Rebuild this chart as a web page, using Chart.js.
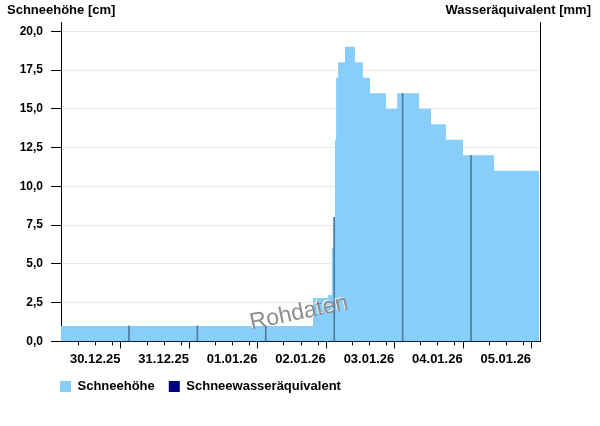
<!DOCTYPE html>
<html>
<head>
<meta charset="utf-8">
<script src="https://cdn.jsdelivr.net/npm/chart.js@4"></script>
<style>
  body { margin: 0; background: #fff; }
</style>
</head>
<body>
<canvas id="schneeChart" width="600" height="426"></canvas>
<script>
// Tage (Beschriftung in der Tagesmitte)
const tage = ['30.12.25', '31.12.25', '01.01.26', '02.01.26', '03.01.26', '04.01.26', '05.01.26'];

// Schneehöhe: Stunden ab 30.12.25 00:00 und Wert [cm] (Stufe gilt bis zum nächsten Punkt)
const stunden = [0, 88.4, 93.7, 95, 95.5, 96.1, 96.5, 97.2, 99.6, 103.1, 105.9, 108.4, 114, 117.9, 125.6, 129.8, 135, 141, 151.9, 167.7];
const schneehoehe = [1, 2.8, 3, 6, 8, 13, 17, 18, 19, 18, 17, 16, 15, 16, 15, 14, 13, 12, 11, 11];

// Werte um Mitternacht (dunkle Linien)
const mitternachtStunden = [24, 48, 72, 96, 120, 144];
const mitternachtWerte = [1, 1, 1, 8, 16, 12];

// Schneewasseräquivalent: keine Daten
const wasser = [];

const yTicks = [0, 2.5, 5, 7.5, 10, 12.5, 15, 17.5, 20];

const fam = "'Liberation Sans', Arial, sans-serif";
const schrift = { family: fam, size: 13, weight: 'bold' };
const schriftY = { family: fam, size: 12, weight: 'bold' };

const extras = {
    id: 'extras',
    afterLayout(chart) {
        // Legende unter der Zeichenfläche beginnen lassen
        chart.legend.left += 36;
        chart.legend.right += 36;
    },
    afterDraw(chart) {
        const c = chart.ctx;
        const x = chart.scales.x;
        const bottom = chart.chartArea.bottom;
        c.save();
        // kleine Striche alle 6 Stunden
        c.strokeStyle = '#000';
        c.lineWidth = 1;
        for (let h = 6; h < 168; h += 6) {
            if (h % 24 === 0) continue;
            const px = Math.round(x.getPixelForValue(h)) + 0.5;
            c.beginPath();
            c.moveTo(px, bottom);
            c.lineTo(px, bottom + 4);
            c.stroke();
        }
        // Achsentitel
        c.font = 'bold 13px ' + fam;
        c.fillStyle = '#000';
        c.textBaseline = 'middle';
        c.textAlign = 'left';
        c.fillText('Schneehöhe [cm]', 7, 10);
        c.textAlign = 'right';
        c.fillText('Wasseräquivalent [mm]', 591, 10);
        // Wasserzeichen
        c.translate(299, 313);
        c.rotate(-12 * Math.PI / 180);
        c.font = '23px ' + fam;
        c.textAlign = 'center';
        c.fillStyle = '#ffffff';
        c.fillText('Rohdaten', -1, -1);
        c.fillStyle = '#8c8c8c';
        c.fillText('Rohdaten', 0, 0);
        c.restore();
    }
};

const ctx = document.getElementById('schneeChart').getContext('2d');

new Chart(ctx, {
    type: 'line',
    data: {
        datasets: [
            {
                label: 'Schneehöhe',
                data: stunden.map((h, i) => ({ x: h, y: schneehoehe[i] })),
                stepped: 'before',
                fill: 'origin',
                backgroundColor: '#87CEFA',
                borderColor: '#87CEFA',
                borderWidth: 0,
                pointRadius: 0,
                order: 1
            },
            {
                type: 'bar',
                label: 'Schneewasseräquivalent',
                data: wasser,
                backgroundColor: '#000080',
                order: 2
            },
            {
                type: 'bar',
                label: 'mitternacht',
                data: mitternachtStunden.map((h, i) => ({ x: h, y: mitternachtWerte[i] })),
                backgroundColor: '#4f7c9f',
                barThickness: 1,
                order: 0
            }
        ]
    },
    options: {
        responsive: false,
        devicePixelRatio: 1,
        animation: false,
        layout: { padding: { left: 10, right: 60, top: 22, bottom: 23 } },
        plugins: {
            legend: {
                position: 'bottom',
                align: 'start',
                labels: {
                    boxWidth: 11,
                    boxHeight: 11,
                    padding: 14,
                    color: '#000',
                    font: schrift,
                    filter: item => item.text !== 'mitternacht'
                }
            },
            tooltip: { enabled: false }
        },
        scales: {
            x: {
                type: 'linear',
                min: 0,
                max: 168,
                offset: false,
                afterFit: s => { s.height -= 4; },
                ticks: {
                    stepSize: 6,
                    autoSkip: false,
                    maxRotation: 0,
                    padding: 3,
                    color: '#000',
                    font: schrift,
                    callback: v => (v % 24 === 12 ? tage[Math.floor(v / 24)] : '')
                },
                grid: {
                    drawOnChartArea: false,
                    tickLength: 7,
                    tickColor: c => (c.tick && c.tick.value % 24 === 0 ? '#000' : 'rgba(0,0,0,0)')
                },
                border: { color: '#000' }
            },
            y: {
                position: 'left',
                min: 0,
                max: 20.6,
                afterBuildTicks: s => { s.ticks = yTicks.map(v => ({ value: v })); },
                afterFit: s => { s.width = 51; },
                ticks: {
                    autoSkip: false,
                    padding: 8,
                    color: '#000',
                    font: schriftY,
                    callback: v => v.toFixed(1).replace('.', ',')
                },
                grid: { color: '#e8e8e8', tickColor: '#000', tickLength: 10 },
                border: { color: '#000' }
            },
            y2: {
                position: 'right',
                min: 0,
                max: 20.6,
                ticks: { display: false },
                grid: { drawOnChartArea: false, drawTicks: false },
                afterFit: s => { s.width = 0; },
                border: { color: '#000' }
            }
        }
    },
    plugins: [extras]
});
</script>
</body>
</html>
